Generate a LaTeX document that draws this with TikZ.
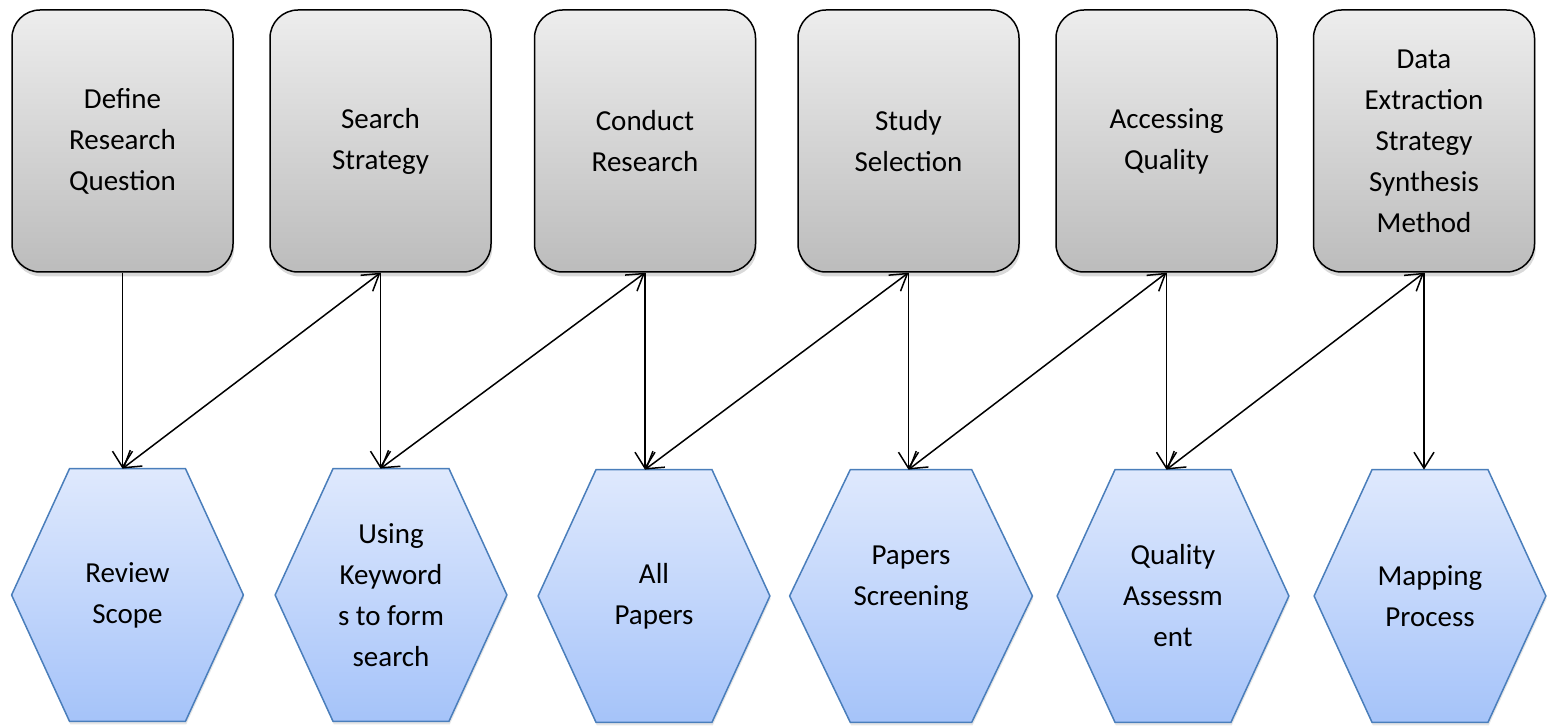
\documentclass[tikz,border=0pt]{standalone}
\usepackage{fontspec}
\setmainfont{Carlito}
\usetikzlibrary{arrows.meta, positioning, calc, shadows, backgrounds}
\definecolor{boxtop}{HTML}{EDEDED}
\definecolor{boxbot}{HTML}{BCBCBC}
\definecolor{hextop}{HTML}{DFE9FD}
\definecolor{hexbot}{HTML}{A5C3F9}
\definecolor{hexline}{HTML}{4A7EBB}

\begin{document}
\begin{tikzpicture}[x=0.5pt, y=-0.5pt,
    every node/.style={font=\fontsize{14.5}{20.5}\selectfont, align=center, inner sep=0pt},
    stage/.style={draw, line width=0.75pt, rounded corners=14pt, minimum width=110.5pt, minimum height=131pt,
      top color=boxtop, bottom color=boxbot,
      drop shadow={shadow xshift=0.6pt, shadow yshift=-2.2pt, opacity=0.3}},
    task/.style={minimum width=115.5pt, minimum height=126pt},
    hexfill/.style={draw=hexline, line width=0.75pt, top color=hextop, bottom color=hexbot,
      drop shadow={shadow xshift=0.4pt, shadow yshift=-1.5pt, opacity=0.2}},
    arr/.style={-{Straight Barb[length=8pt, width=10pt]}, line width=0.75pt},
    biarr/.style={{Straight Barb[length=8pt, width=10pt]}-{Straight Barb[length=8pt, width=10pt]}, line width=0.75pt}]
    \useasboundingbox (0,0) rectangle (1554,726);

    % top row
    \node[stage] (b1) at (122.5,141) {Define\\Research\\Question};
    \node[stage] (b2) at (380.5,141) {Search\\Strategy};
    \node[stage] (b3) at (645,141) {Conduct\\Research};
    \node[stage] (b4) at (908.5,141) {Study\\Selection};
    \node[stage] (b5) at (1166.5,141) {Accessing\\Quality};
    \node[stage] (b6) at (1424,141) {Data\\Extraction\\Strategy\\Synthesis\\Method};

    % bottom row
    \node[task] (h1) at (127.5,595) {Review\\Scope};
    \node[task] (h2) at (391,595) {Using\\Keyword\\s to form\\search};
    \node[task] (h3) at (654,596) {All\\Papers};
    \node[task, minimum width=121pt] (h4) at (911,596) {Papers\\Screening\\\mbox{}};
    \node[task] (h5) at (1173,596) {Quality\\Assessm\\ent};
    \node[task] (h6) at (1430,596) {Mapping\\Process};

    \begin{scope}[on background layer]
      \foreach \h in {h1,h2,h3,h4,h5,h6}
        \path[hexfill] (\h.west) -- ($(\h.north west)!0.25!(\h.north east)$)
          -- ($(\h.north west)!0.75!(\h.north east)$) -- (\h.east)
          -- ($(\h.south west)!0.75!(\h.south east)$)
          -- ($(\h.south west)!0.25!(\h.south east)$) -- cycle;
    \end{scope}

    \draw[arr] (b1.south) -- (b1.south |- h1.north);
    \draw[arr] (b2.south) -- (b2.south |- h2.north);
    \draw[arr] (b3.south) -- (b3.south |- h3.north);
    \draw[arr] (b4.south) -- (b4.south |- h4.north);
    \draw[arr] (b5.south) -- (b5.south |- h5.north);
    \draw[arr] (b6.south) -- (b6.south |- h6.north);

    \draw[biarr] (b1.south |- h1.north) -- (b2.south);
    \draw[biarr] (b2.south |- h2.north) -- (b3.south);
    \draw[biarr] (b3.south |- h3.north) -- (b4.south);
    \draw[biarr] (b4.south |- h4.north) -- (b5.south);
    \draw[biarr] (b5.south |- h5.north) -- (b6.south);
\end{tikzpicture}
\end{document}
